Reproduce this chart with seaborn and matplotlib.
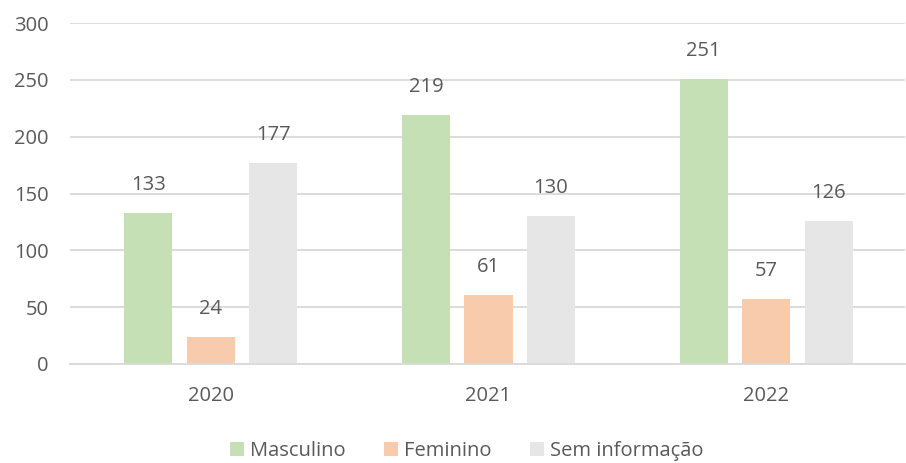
import numpy as np
import pandas as pd
import seaborn as sns
import matplotlib.pyplot as plt

years = ["2020", "2021", "2022"]
series = ["Masculino", "Feminino", "Sem informação"]
masculino = [133, 219, 251]
feminino = [24, 61, 57]
sem_info = [177, 130, 126]

colors = ["#C5E0B4", "#F8CBAD", "#E7E6E6"]
text_color = "#595959"

df = pd.DataFrame({
    "ano": years * 3,
    "grupo": [series[0]] * 3 + [series[1]] * 3 + [series[2]] * 3,
    "valor": masculino + feminino + sem_info,
})

sns.set_theme(style="white")
plt.rcParams["font.family"] = ["Open Sans", "DejaVu Sans"]

fig = plt.figure(figsize=(9.06, 4.63), dpi=100)
ax = fig.add_axes([0.077, 0.214, 0.922, 0.736])

sns.barplot(data=df, x="ano", y="valor", hue="grupo", hue_order=series,
            palette=colors, width=0.675, gap=0.23, saturation=1,
            edgecolor="none", ax=ax, legend=True)

for cont in ax.containers:
    ax.bar_label(cont, padding=13, fontsize=14.5, color=text_color)

ax.set_ylim(0, 300)
ax.set_yticks(range(0, 301, 50))
ax.set_xlim(-0.508, 2.5)
ax.yaxis.grid(True, color="#D9D9D9", linewidth=1.3)
ax.set_axisbelow(True)
for s in ["left", "right", "top"]:
    ax.spines[s].set_visible(False)
ax.spines["bottom"].set_color("#D9D9D9")
ax.spines["bottom"].set_linewidth(1.3)
ax.tick_params(axis="both", length=0, labelsize=14.5, colors=text_color)
ax.tick_params(axis="x", pad=16)
ax.tick_params(axis="y", pad=15)
ax.set_xlabel("")
ax.set_ylabel("")

handles, labels = ax.get_legend_handles_labels()
ax.legend_.remove()
fig.legend(handles, labels, loc="lower center", ncol=3, frameon=False,
           bbox_to_anchor=(0.515, -0.035), fontsize=14.5, labelcolor=text_color,
           handlelength=0.7, handleheight=0.7, handletextpad=0.3,
           columnspacing=1.9)

fig.savefig("out.png", dpi=100)
